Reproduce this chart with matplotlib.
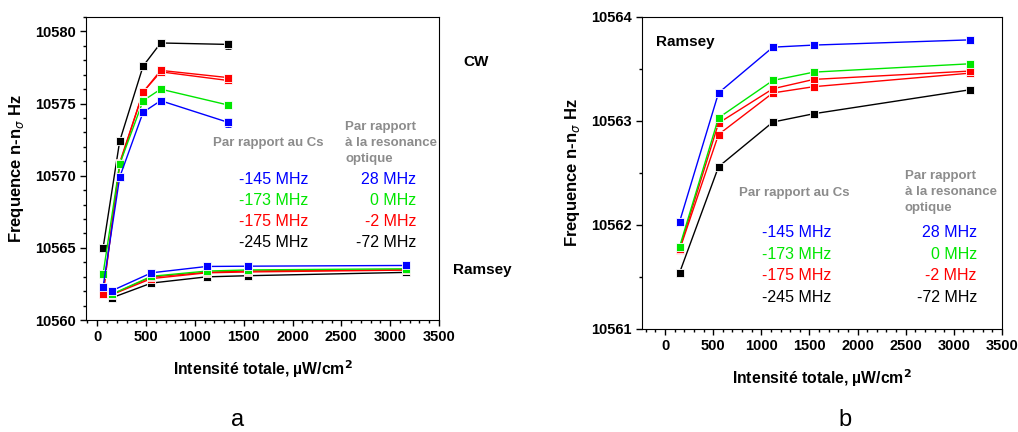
import matplotlib.pyplot as plt
from matplotlib.ticker import MultipleLocator, ScalarFormatter

plt.rcParams['font.family'] = ['Liberation Sans', 'DejaVu Sans']

# CW data (left panel)
cw_x = [60, 230, 470, 650, 1340]
cw_blue = [10562.3, 10569.9, 10574.4, 10575.2, 10573.7]
cw_green = [10563.2, 10570.8, 10575.2, 10576.0, 10574.9]
cw_red1 = [10561.8, 10570.9, 10575.8, 10577.3, 10576.8]
cw_red2 = [10561.8, 10570.8, 10575.8, 10577.2, 10576.6]
cw_black = [10565.0, 10572.4, 10577.6, 10579.2, 10579.1]
cw_err_blue = [0.1, 0.1, 0.1, 0.1, 0.3]
cw_err_black = [0.1, 0.1, 0.1, 0.1, 0.3]

# Ramsey data (both panels)
ram_x = [150, 555, 1120, 1545, 3165]
ram_blue = [10562.03, 10563.27, 10563.71, 10563.73, 10563.78]
ram_green = [10561.79, 10563.03, 10563.39, 10563.47, 10563.55]
ram_red1 = [10561.77, 10562.98, 10563.31, 10563.40, 10563.48]
ram_red2 = [10561.76, 10562.87, 10563.27, 10563.33, 10563.46]
ram_black = [10561.54, 10562.56, 10562.99, 10563.07, 10563.30]

cs_labels = ["-145 MHz", "-173 MHz", "-175 MHz", "-245 MHz"]
opt_labels = ["28 MHz", "0 MHz", "-2 MHz", "-72 MHz"]
label_colors = ["#0000ff", "#00e600", "#ff0000", "#000000"]

mk = dict(marker='s', markersize=6, markeredgecolor='white', markeredgewidth=0.6, linewidth=1)

fig = plt.figure(figsize=(10.18, 4.32), dpi=100)
ax1 = fig.add_axes([86/1018, 1-320/432, 353/1018, 303/432])
ax2 = fig.add_axes([642/1018, 1-329/432, 360/1018, 312/432])


def style(ax):
    fmt = ScalarFormatter(useOffset=False)
    ax.yaxis.set_major_formatter(fmt)
    ax.tick_params(which='both', direction='out', top=False, right=False)
    ax.tick_params(which='major', length=4, width=1, labelsize=10.5)
    ax.tick_params(which='minor', length=2.5, width=1)
    ax.xaxis.set_major_locator(MultipleLocator(500))
    ax.xaxis.set_minor_locator(MultipleLocator(100))
    for lab in ax.get_xticklabels() + ax.get_yticklabels():
        lab.set_fontweight('bold')
    ax.set_xlabel("Intensité totale, µW/cm$^\\mathbf{2}$", fontsize=11.3, fontweight='bold', labelpad=10)
    ax.set_ylabel("Frequence n-n$_{\\sigma}$ Hz", fontsize=12, fontweight='bold', labelpad=6)


def ramsey(ax):
    for ys, c in [(ram_black, 'black'), (ram_red2, 'red'), (ram_red1, 'red'),
                  (ram_green, '#00e600'), (ram_blue, 'blue')]:
        ax.plot(ram_x, ys, color=c, **mk)


# left panel
for ys, c, err in [(cw_black, 'black', cw_err_black), (cw_red2, 'red', None), (cw_red1, 'red', None),
                   (cw_green, '#00e600', None), (cw_blue, 'blue', cw_err_blue)]:
    ax1.errorbar(cw_x, ys, yerr=err, color=c, capsize=2, elinewidth=1, **mk)
ramsey(ax1)
ax1.set_xlim(-115, 3500)
ax1.set_ylim(10560, 10581)
ax1.yaxis.set_major_locator(MultipleLocator(5))
ax1.yaxis.set_minor_locator(MultipleLocator(1))
style(ax1)

gray = '#8c8c8c'
ax1.text(0.36, 0.585, "Par rapport au Cs", transform=ax1.transAxes, color=gray,
         fontsize=9.5, fontweight='bold', va='center')
ax1.text(0.735, 0.585, "Par rapport\nà la resonance\noptique", transform=ax1.transAxes, color=gray,
         fontsize=9.5, fontweight='bold', va='center', linespacing=1.45)
for i, (a, b, c) in enumerate(zip(cs_labels, opt_labels, label_colors)):
    y = 0.465 - i * 0.07
    ax1.text(0.63, y, a, transform=ax1.transAxes, color=c, fontsize=11.5, ha='right', va='center')
    ax1.text(0.935, y, b, transform=ax1.transAxes, color=c, fontsize=11.5, ha='right', va='center')
ax1.text(1.07, 0.85, "CW", transform=ax1.transAxes, fontsize=11, fontweight='bold', va='center')
ax1.text(1.04, 0.165, "Ramsey", transform=ax1.transAxes, fontsize=11, fontweight='bold', va='center')

# right panel
ramsey(ax2)
ax2.set_xlim(-240, 3500)
ax2.set_ylim(10561, 10564)
ax2.yaxis.set_major_locator(MultipleLocator(1))
ax2.yaxis.set_minor_locator(MultipleLocator(0.5))
style(ax2)
ax2.text(0.04, 0.92, "Ramsey", transform=ax2.transAxes, fontsize=11, fontweight='bold', va='center')
ax2.text(0.27, 0.435, "Par rapport au Cs", transform=ax2.transAxes, color=gray,
         fontsize=9.5, fontweight='bold', va='center')
ax2.text(0.73, 0.44, "Par rapport\nà la resonance\noptique", transform=ax2.transAxes, color=gray,
         fontsize=9.5, fontweight='bold', va='center', linespacing=1.45)
for i, (a, b, c) in enumerate(zip(cs_labels, opt_labels, label_colors)):
    y = 0.31 - i * 0.07
    ax2.text(0.525, y, a, transform=ax2.transAxes, color=c, fontsize=11.5, ha='right', va='center')
    ax2.text(0.93, y, b, transform=ax2.transAxes, color=c, fontsize=11.5, ha='right', va='center')

fig.text(238/1018, 1-420/432, "a", fontsize=17, ha='center', va='center')
fig.text(845/1018, 1-420/432, "b", fontsize=17, ha='center', va='center')

fig.savefig("out.png", dpi=100)
